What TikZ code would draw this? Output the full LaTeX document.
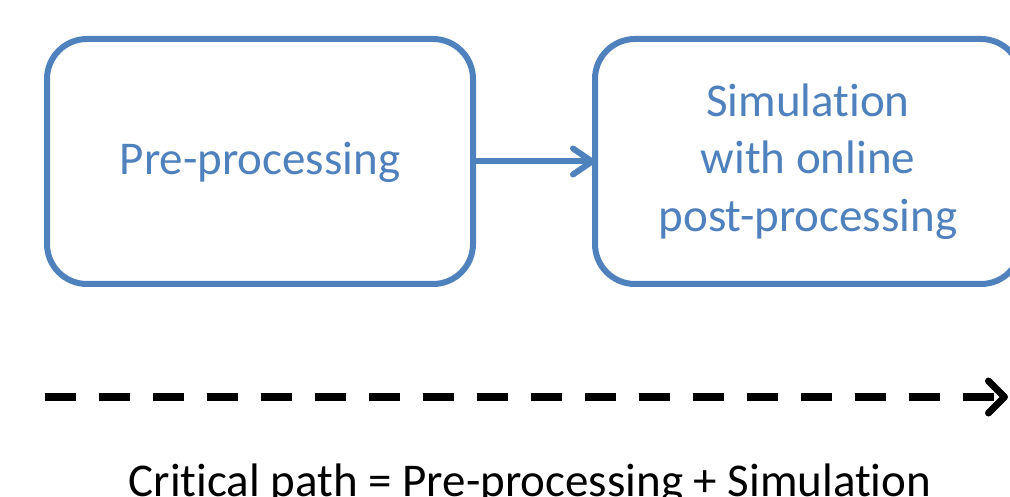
\documentclass[tikz,border=0pt]{standalone}
\usepackage{fontspec}
\setmainfont{Carlito}[Ligatures={NoCommon,NoContextual,NoRequired}]
\usetikzlibrary{arrows.meta,shadows}
\definecolor{officeblue}{HTML}{4F81BD}
\begin{document}
\begin{tikzpicture}[x=1pt,y=-1pt,
  box/.style={draw=officeblue, line width=6pt, rounded corners=40pt, fill=white,
    minimum width=426pt, minimum height=245pt, inner sep=0pt, outer sep=0pt,
    text=officeblue, font=\fontsize{47}{57.5}\selectfont, align=center,
    drop shadow={shadow xshift=1.5pt, shadow yshift=-2.5pt, opacity=0.2}},
  flow/.style={draw=officeblue, line width=6pt,
    -{Straight Barb[length=19pt,width=26pt,round]}},
  crit/.style={draw=black, line width=8pt, dash pattern=on 31pt off 23pt,
    -{Straight Barb[length=16pt,width=32pt,line width=7pt,round]}},
  caption/.style={font=\fontsize{47}{57.5}\selectfont, anchor=base, inner sep=0pt}
]
\useasboundingbox (0,0) rectangle (1010,497);
\node[box] (pre) at (260,161.5) {\raisebox{-13.5pt}[0pt][0pt]{Pre-processing}};
\node[box] (sim) at (808,161.5) {Simulat\kern0pt ion\\with online\\post-processing};
\draw[flow] (pre.east) -- (sim.west);
\coordinate (cs) at (45,397);
\coordinate (ce) at (1008,397);
\draw[crit] (cs) -- (ce);
\node[caption] (cap) at (530,496) {Crit\kern0pt ical path = Pre-processing + Simulat\kern0pt ion};
\end{tikzpicture}
\end{document}
